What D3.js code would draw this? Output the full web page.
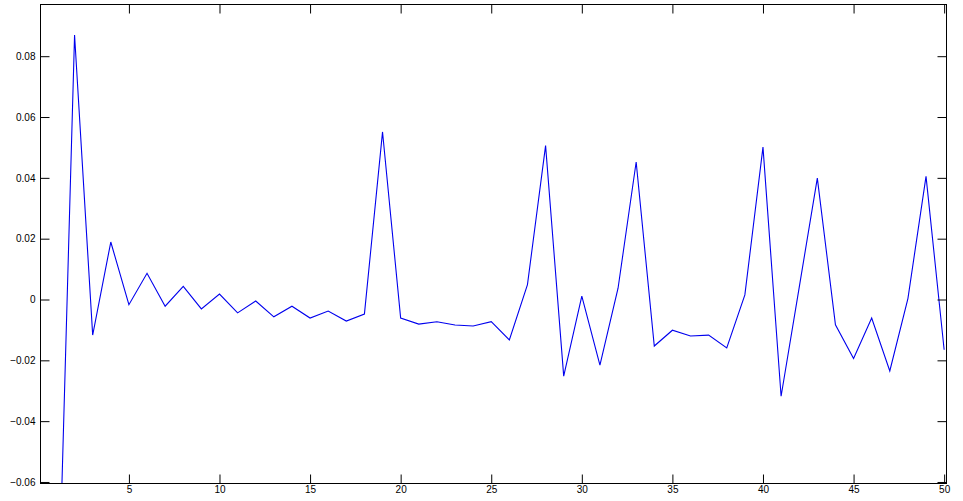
<!DOCTYPE html>
<html>
<head>
<meta charset="utf-8">
<script src="https://cdn.jsdelivr.net/npm/d3@7"></script>
<style>
  body { margin: 0; background: #fff; }
  text { font-family: "Liberation Sans", Arial, sans-serif; font-size: 10px; fill: #000; }
</style>
</head>
<body>
<div id="canvas"></div>
<script>
// sample index and value
var xs = d3.range(1, 51);
var values = [
  -0.125, 0.087, -0.0117, 0.0189, -0.0017, 0.0086, -0.0022, 0.0043, -0.0031, 0.0018,
  -0.0044, -0.0005, -0.0057, -0.0022, -0.0061, -0.0038, -0.0071, -0.0048, 0.0551, -0.0061,
  -0.0081, -0.0073, -0.0084, -0.0087, -0.0073, -0.0133, 0.0049, 0.0506, -0.0252, 0.0011,
  -0.0216, 0.0037, 0.0452, -0.0153, -0.0101, -0.0120, -0.0117, -0.0159, 0.0015, 0.0501,
  -0.0318, 0.0040, 0.0399, -0.0083, -0.0194, -0.0061, -0.0235, 0.0003, 0.0405, -0.0165
];
var xTicks = [5, 10, 15, 20, 25, 30, 35, 40, 45, 50];
var yTicks = [-0.06, -0.04, -0.02, 0, 0.02, 0.04, 0.06, 0.08];

var margin = { top: 4, right: 17, bottom: 18, left: 40 },
  width = 963 - margin.left - margin.right,
  height = 501 - margin.top - margin.bottom;

var svg = d3.select("#canvas")
  .append("svg")
  .attr("width", 963)
  .attr("height", 501)
  .append("g")
  .attr("transform", "translate(" + (margin.left + 0.5) + "," + (margin.top + 0.5) + ")");

var x = d3.scaleLinear()
  .domain([0.12, 50.13])
  .range([0, width]);

var y = d3.scaleLinear()
  .domain([-0.0605, 0.097])
  .range([height, 0]);

svg.append("clipPath")
  .attr("id", "clip")
  .append("rect")
  .attr("width", width)
  .attr("height", height);

// data line
var line = d3.line()
  .x(function (d, i) { return x(xs[i]); })
  .y(function (d) { return y(d); });

svg.append("path")
  .datum(values)
  .attr("clip-path", "url(#clip)")
  .attr("fill", "none")
  .attr("stroke", "#0000ee")
  .attr("stroke-width", 1.1)
  .attr("d", line);

// axes: labels bottom/left, inward ticks on all four sides
var tickLen = 9;
var fmt = function (d) { return d === 0 ? "0" : d3.format(".2f")(d); };

var bottom = svg.append("g")
  .attr("transform", "translate(0," + height + ")")
  .call(d3.axisBottom(x).tickValues(xTicks).tickSize(-tickLen).tickPadding(tickLen + 4));
var top_ = svg.append("g")
  .call(d3.axisTop(x).tickValues(xTicks).tickSize(-tickLen).tickFormat(""));
var left = svg.append("g")
  .call(d3.axisLeft(y).tickValues(yTicks).tickSize(-tickLen).tickPadding(5).tickFormat(fmt));
var right = svg.append("g")
  .attr("transform", "translate(" + width + ",0)")
  .call(d3.axisRight(y).tickValues(yTicks).tickSize(-tickLen).tickFormat(""));

svg.selectAll(".domain").remove();
svg.selectAll(".tick line").attr("stroke", "#000");
svg.selectAll(".tick text").attr("fill", "#000").style("font-size", "10px")
  .style("font-family", "'Liberation Sans', Arial, sans-serif");
left.selectAll(".tick text").attr("x", -5);
bottom.selectAll(".tick text").attr("dy", "0.71em").attr("y", 2);

// box
svg.append("rect")
  .attr("width", width)
  .attr("height", height)
  .attr("fill", "none")
  .attr("stroke", "#000")
  .attr("stroke-width", 1);
</script>
</body>
</html>
